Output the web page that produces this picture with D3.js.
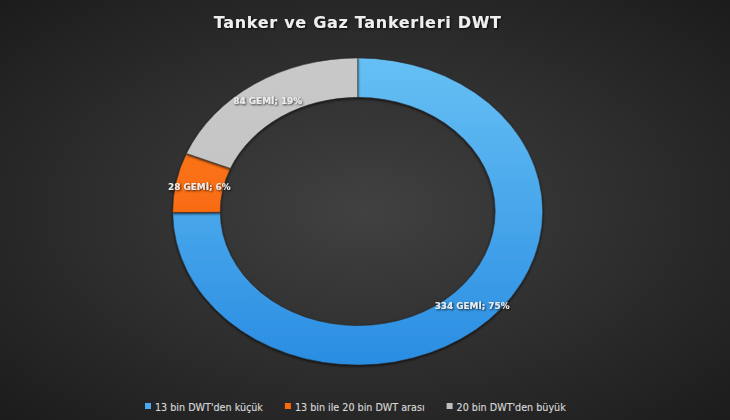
<!DOCTYPE html>
<html><head><meta charset="utf-8">
<script src="https://cdn.jsdelivr.net/npm/d3@7"></script>
<style>html,body{margin:0;padding:0;background:#2a2a2a;}svg{display:block;}</style>
</head><body>
<svg id="c" width="730" height="420"></svg>
<script>
const title = "Tanker ve Gaz Tankerleri DWT";
const categories = ["13 bin DWT'den küçük", "13 bin ile 20 bin DWT arası", "20 bin DWT'den büyük"];
const values = [334, 28, 84];
const percentLabels = ["75%", "6%", "19%"];
const unitLabel = "GEMİ";

const W = 730, H = 420;
const cx = 357.7, cy = 211.5, rOuter = 185, rInner = 137.5, yScale = 0.83;

const svg = d3.select("#c");
const defs = svg.append("defs");

const bg = defs.append("radialGradient").attr("id","bg").attr("cx","50%").attr("cy","50%").attr("r","70%");
bg.append("stop").attr("offset","0%").attr("stop-color","#414141");
bg.append("stop").attr("offset","100%").attr("stop-color","#1c1c1c");

const gradDefs = [["#66c0f4","#2a8de2"],["#ff7c22","#f35c00"],["#c9c9c9","#bcbcbc"]];
gradDefs.forEach((g,i)=>{
  const lg = defs.append("linearGradient").attr("id","g"+i).attr("gradientUnits","userSpaceOnUse")
    .attr("x1",0).attr("y1",-rOuter).attr("x2",0).attr("y2",rOuter);
  lg.append("stop").attr("offset","0%").attr("stop-color",g[0]);
  lg.append("stop").attr("offset","100%").attr("stop-color",g[1]);
});
const sh = defs.append("filter").attr("id","sh").attr("x","-20%").attr("y","-20%").attr("width","140%").attr("height","140%");
sh.append("feDropShadow").attr("dx",0).attr("dy",1.5).attr("stdDeviation",1.5).attr("flood-color","#000").attr("flood-opacity",0.7);
const tsh = defs.append("filter").attr("id","tsh");
tsh.append("feDropShadow").attr("dx",1).attr("dy",1).attr("stdDeviation",0.8).attr("flood-color","#000").attr("flood-opacity",0.8);

svg.append("rect").attr("width",W).attr("height",H).attr("fill","url(#bg)");

svg.append("text").attr("x",cx).attr("y",28).attr("text-anchor","middle")
  .attr("font-family","DejaVu Sans").attr("font-weight","bold").attr("font-size",16)
  .attr("letter-spacing",0.7).attr("fill","#eeeeee").attr("filter","url(#tsh)").text(title);

const pie = d3.pie().sort(null).value(d=>d);
const arcs = pie(values);
const arc = d3.arc().innerRadius(rInner).outerRadius(rOuter);

const g = svg.append("g").attr("transform",`translate(${cx},${cy}) scale(1,${yScale})`);
g.selectAll("path").data(arcs).join("path")
  .attr("d",arc).attr("fill",(d,i)=>`url(#g${i})`)
  .attr("stroke","#2a2a2a").attr("stroke-width",0.6)
  .attr("filter","url(#sh)");

const lblArc = d3.arc().innerRadius(rInner).outerRadius(rOuter);
svg.append("g").selectAll("text").data(arcs).join("text")
  .attr("x",d=>cx+lblArc.centroid(d)[0])
  .attr("y",d=>cy+lblArc.centroid(d)[1]*yScale+3.5)
  .attr("text-anchor","middle")
  .attr("font-family","DejaVu Sans").attr("font-weight","bold").attr("font-size",8.9)
  .attr("fill","#ececec").attr("filter","url(#tsh)")
  .text((d,i)=>`${values[i]} ${unitLabel}; ${percentLabels[i]}`);

const legColors = ["#4aa8ec","#fa6a0c","#bfbfbf"];
const leg = svg.append("g");
let x = 145;
const gap = 22;
categories.forEach((c,i)=>{
  leg.append("rect").attr("x",x).attr("y",403).attr("width",6).attr("height",6).attr("fill",legColors[i]);
  const t = leg.append("text").attr("x",x+10).attr("y",410.5)
    .attr("font-family","DejaVu Sans").attr("font-size",9.6).attr("fill","#d6d6d6")
    .attr("stroke","#d6d6d6").attr("stroke-width",0.15).text(c);
  x = x + 10 + t.node().getComputedTextLength() + gap;
});
</script>
</body></html>
